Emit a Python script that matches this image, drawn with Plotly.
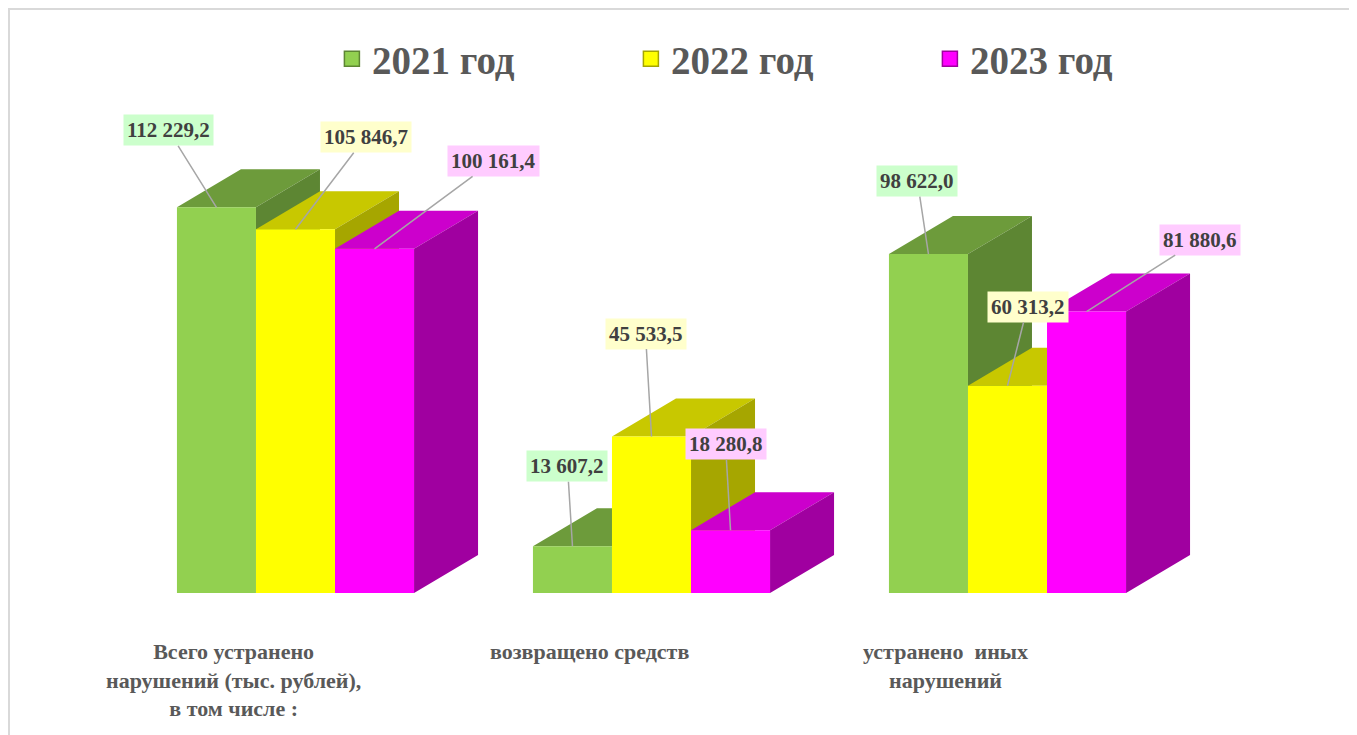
import plotly.graph_objects as go

# ---------------- data ----------------
categories = [
    ["Всего устранено", "нарушений (тыс. рублей),", "в том числе :"],
    ["возвращено средств"],
    ["устранено  иных", "нарушений"],
]
series_names = ["2021 год", "2022 год", "2023 год"]
values_2021 = [112229.2, 13607.2, 98622.0]
values_2022 = [105846.7, 45533.5, 60313.2]
values_2023 = [100161.4, 18280.8, 81880.6]
label_text_2021 = ["112 229,2", "13 607,2", "98 622,0"]
label_text_2022 = ["105 846,7", "45 533,5", "60 313,2"]
label_text_2023 = ["100 161,4", "18 280,8", "81 880,6"]

# ---------------- styles ----------------
SERIF = "Times New Roman, Liberation Serif, DejaVu Serif, serif"
front_colors = ["#92d050", "#ffff00", "#ff00ff"]
top_colors = ["#6d9b3b", "#c8c800", "#cc00cc"]
side_colors = ["#5d8633", "#a6a600", "#a000a0"]
label_bg = ["#ccffcc", "#ffffcc", "#ffccff"]
text_grey = "#595959"
label_font = dict(family=SERIF, size=21, color="#404040")

W, H = 1357, 735
OFF = 8                    # page body margin
PX_X = 356.0               # pixels per x unit
X0_PX = 295.5 - OFF        # pixel of first category centre inside figure
X_RANGE = [-X0_PX / PX_X, (W - X0_PX) / PX_X]
Y_PER_PX = 291.0
BASE_PX = 593 - OFF
Y_RANGE = [-(H - BASE_PX) * Y_PER_PX, BASE_PX * Y_PER_PX]
BAR_W = 0.222
OFFSETS = [-0.222, 0.0, 0.222]
DX = 64 / PX_X             # depth in x units
DY = 38 * Y_PER_PX         # depth in y units

all_values = [values_2021, values_2022, values_2023]
all_labels = [label_text_2021, label_text_2022, label_text_2023]

# label offsets (pixels) from bar top to label centre
label_offsets = [
    [(-48, -77), (-5, -80), (-11, -73)],
    [(70, -92), (-6, -103), (20, -79)],
    [(119, -88), (-5, -86), (113, -72)],
]

fig = go.Figure()

for s, vals in enumerate(all_values):
    tops_x, tops_y, side_x, side_y, fr_x, fr_y = [], [], [], [], [], []
    for g, v in enumerate(vals):
        xc = g + OFFSETS[s]
        xl, xr = xc - BAR_W / 2, xc + BAR_W / 2
        tops_x += [xl, xr, xr + DX, xl + DX, xl, None]
        tops_y += [v, v, v + DY, v + DY, v, None]
        side_x += [xr, xr + DX, xr + DX, xr, xr, None]
        side_y += [0, DY, v + DY, v, 0, None]
        fr_x += [xl, xr, xr, xl, xl, None]
        fr_y += [0, 0, v, v, 0, None]
    for xs, ys, col in [(tops_x, tops_y, top_colors[s]),
                        (side_x, side_y, side_colors[s]),
                        (fr_x, fr_y, front_colors[s])]:
        fig.add_trace(go.Scatter(x=xs, y=ys, fill="toself", fillcolor=col,
                                 mode="lines", line=dict(width=0, color=col),
                                 showlegend=False, hoverinfo="skip"))

# legend-only traces
for s, name in enumerate(series_names):
    fig.add_trace(go.Scatter(x=[None], y=[None], mode="markers",
                             name="<b>%s</b>" % name,
                             marker=dict(symbol="square", size=15,
                                         color=front_colors[s],
                                         line=dict(width=1.5, color=side_colors[s]))))

# data labels
for s, vals in enumerate(all_values):
    for g, v in enumerate(vals):
        ax, ay = label_offsets[s][g]
        fig.add_annotation(x=g + OFFSETS[s], y=v, xref="x", yref="y",
                           text="<b>%s</b>" % all_labels[s][g],
                           showarrow=True, arrowhead=0, arrowwidth=1.5,
                           arrowcolor="#a6a6a6", ax=ax, ay=ay,
                           bgcolor=label_bg[s], borderpad=3,
                           font=label_font)

# category labels
for g, lines in enumerate(categories):
    fig.add_annotation(x=g - 0.174, xref="x",
                       y=1 - (637 - OFF) / H, yref="paper", yanchor="top",
                       showarrow=False, align="center",
                       text="<br>".join("<b>%s</b>" % ln for ln in lines),
                       font=dict(family=SERIF, size=22, color=text_grey))

# outer frame
fig.add_shape(type="rect", xref="paper", yref="paper",
              x0=1 / W, x1=1.01, y0=-0.01, y1=1 - 1 / H,
              line=dict(color="#d9d9d9", width=2), layer="below")

fig.update_layout(
    width=W, height=H,
    margin=dict(l=0, r=0, t=0, b=0),
    paper_bgcolor="white", plot_bgcolor="white",
    xaxis=dict(range=X_RANGE, visible=False, fixedrange=True),
    yaxis=dict(range=Y_RANGE, visible=False, fixedrange=True),
    legend=dict(orientation="h", x=0.235 + 5 / W, y=1 - (59 - OFF) / H,
                yanchor="middle", xanchor="left",
                entrywidth=254, entrywidthmode="pixels",
                font=dict(family=SERIF, size=39, color=text_grey),
                bgcolor="rgba(0,0,0,0)"),
    showlegend=True,
)

fig.write_html("out.html")
